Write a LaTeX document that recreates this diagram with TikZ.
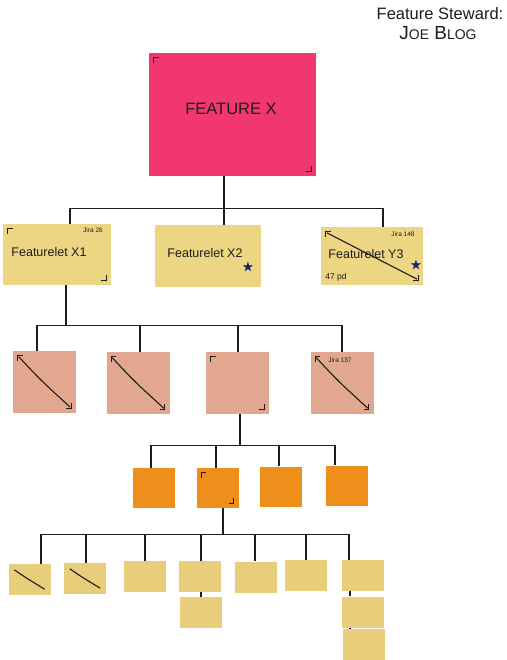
\documentclass[tikz,border=0pt]{standalone}
\usepackage{amssymb}
\usepackage{fontspec}
\setmainfont{Liberation Sans}
\usepackage{tikz}
\usetikzlibrary{calc}
\usetikzlibrary{positioning}

\definecolor{featpink}{RGB}{241,54,112}
\definecolor{letyellow}{RGB}{236,214,132}
\definecolor{taskpeach}{RGB}{225,168,143}
\definecolor{subtaskorange}{RGB}{238,143,28}
\definecolor{itemyellow}{RGB}{232,205,122}
\definecolor{ink}{RGB}{30,28,28}
\definecolor{starblue}{RGB}{28,36,105}

% corner ticks and cross-out stroke on a sticky note
\newcommand{\stickycorners}[1]{%
  \draw[ink,thick] ($(#1.north west)+(5,10)$) -- ($(#1.north west)+(5,5)$)
    -- ($(#1.north west)+(10,5)$);
  \draw[ink,thick] ($(#1.south east)+(-10,-5)$) -- ($(#1.south east)+(-5,-5)$)
    -- ($(#1.south east)+(-5,-10)$);
}
\newcommand{\crossout}[1]{%
  \draw[ink,line width=1.1pt] ($(#1.north west)+(6,6)$)
    .. controls ($(#1.center)+(-4,-2)$) .. ($(#1.south east)+(-6,-6)$);
}

\begin{document}
\begin{tikzpicture}[x=1pt,y=-1pt,
    sticky/.style={inner sep=0pt, draw=none},
    featx/.style={sticky, fill=featpink},
    featurelet/.style={sticky, fill=letyellow},
    task/.style={sticky, fill=taskpeach, minimum width=63, minimum height=62},
    subtask/.style={sticky, fill=subtaskorange, minimum width=42, minimum height=40},
    item/.style={sticky, fill=itemyellow, minimum width=42, minimum height=31},
    handtext/.style={inner sep=0pt, text=ink, font=\fontsize{12.5}{14}\selectfont},
    jira/.style={inner sep=0pt, text=ink, font=\fontsize{6.5}{7}\selectfont},
    star/.style={inner sep=0pt, text=starblue, font=\large},
    wire/.style={ink, line width=1.2pt}]
  \useasboundingbox (0,0) rectangle (506,660);

  % steward
  \node[handtext, font=\fontsize{16.5}{18}\selectfont] (steward) at (440,14) {Feature Steward:};
  \node[handtext, font=\fontsize{19}{20}\selectfont] (owner) at (438,33)
    {J{\fontsize{14}{15}\selectfont OE} B{\fontsize{14}{15}\selectfont LOG}};

  % feature
  \node[featx, minimum width=167, minimum height=123] (fx) at (232.5,114.5) {};
  \node[handtext, font=\fontsize{16.5}{18}\selectfont] (fxname) at (231,109) {FEATURE X};
  \stickycorners{fx}

  % featurelets
  \node[featurelet, minimum width=108, minimum height=61] (x1) at (57,254.5) {};
  \node[featurelet, minimum width=106, minimum height=62] (x2) at (208,256) {};
  \node[featurelet, minimum width=102, minimum height=58] (y3) at (372,256) {};
  \node[handtext] (x1name) at (49,252) {Featurelet X1};
  \node[jira] (x1jira) at (93,230) {Jira 26};
  \node[handtext] (x2name) at (205,253) {Featurelet X2};
  \node[star] (x2star) at (248,268) {$\bigstar$};
  \node[handtext] (y3name) at (366,254) {Featurelet Y3};
  \node[jira] (y3jira) at (403,234) {Jira 148};
  \node[handtext, font=\fontsize{8.5}{9}\selectfont] (y3pd) at (336,277) {47 pd};
  \node[star] (y3star) at (416,266) {$\bigstar$};
  \stickycorners{x1}
  \stickycorners{y3}
  \crossout{y3}

  % tasks
  \node[task] (s1) at (44.5,382) {};
  \node[task] (s2) at (138,383) {};
  \node[task] (s3) at (237.5,383) {};
  \node[task] (s4) at (342,383) {};
  \node[jira] (s4jira) at (340,360) {Jira 137};
  \foreach \n in {s1,s2,s3,s4} {\stickycorners{\n}}
  \foreach \n in {s1,s2,s4} {\crossout{\n}}

  % sub-tasks
  \node[subtask] (o1) at (154,488) {};
  \node[subtask] (o2) at (217.5,488) {};
  \node[subtask] (o3) at (281,486.5) {};
  \node[subtask] (o4) at (346.5,485.5) {};
  \stickycorners{o2}

  % items
  \node[item] (c1) at (29.5,579.5) {};
  \node[item] (c2) at (85,578.5) {};
  \node[item] (c3) at (144.5,576.5) {};
  \node[item] (c4) at (200,576.5) {};
  \node[item] (c4b) at (200.5,612.5) {};
  \node[item] (c5) at (256,577) {};
  \node[item] (c6) at (306,575.5) {};
  \node[item] (c7) at (363,575.5) {};
  \node[item] (c7b) at (363,612) {};
  \node[item] (c7c) at (363.5,644.5) {};
  \foreach \n in {c1,c2} {\crossout{\n}}

  % tree lines
  \draw[wire] ([xshift=-8.5]fx.south) -- ++(0,32) coordinate (bus1);
  \draw[wire] ([xshift=13]x1.north) |- (bus1) -| ([xshift=11]y3.north);
  \draw[wire] ([xshift=16]x2.north) -- ([xshift=16]x2.north |- bus1);

  \draw[wire] ([xshift=9]x1.south) -- ++(0,40) coordinate (bus2);
  \draw[wire] ([xshift=-7.5]s1.north) |- (bus2) -| (s4.north);
  \foreach \n/\s in {s2/2,s3/0.5} {
      \draw[wire] ([xshift=\s]\n.north) -- ([xshift=\s]\n.north |- bus2);
    }

  \draw[wire] ([xshift=2.5]s3.south) -- ++(0,31) coordinate (bus3);
  \draw[wire] ([xshift=-3]o1.north) |- (bus3) -| ([xshift=-11.5]o4.north);
  \foreach \n/\s in {o2/-1.5,o3/-2} {
      \draw[wire] ([xshift=\s]\n.north) -- ([xshift=\s]\n.north |- bus3);
    }

  \draw[wire] ([xshift=5.5]o2.south) -- ++(0,26) coordinate (bus4);
  \draw[wire] ([xshift=11.5]c1.north) |- (bus4) -| ([xshift=-14]c7.north);
  \foreach \n/\s in {c2/1,c3/0.5,c4/1,c5/-1,c6/0} {
      \draw[wire] ([xshift=\s]\n.north) -- ([xshift=\s]\n.north |- bus4);
    }
  \draw[wire] ([xshift=1]c4.south) -- ([xshift=1]c4.south |- c4b.north);
  \draw[wire] ([xshift=-13]c7.south) -- ([xshift=-13]c7.south |- c7b.north);
  \draw[wire] ([xshift=-13]c7b.south) -- ([xshift=-13]c7b.south |- c7c.north);
\end{tikzpicture}
\end{document}
